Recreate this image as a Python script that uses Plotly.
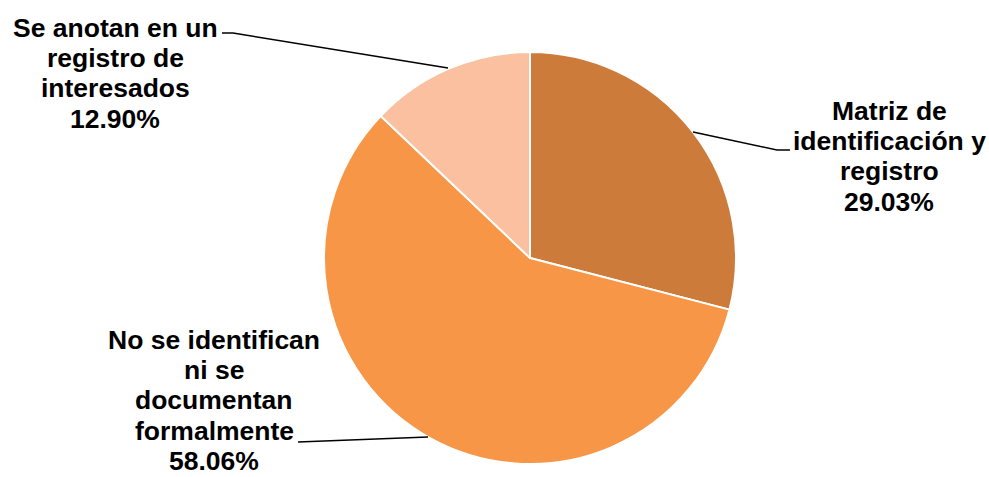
import plotly.graph_objects as go

# Slice data (clockwise from 12 o'clock)
labels = ["Matriz de identificación y registro",
          "No se identifican ni se documentan formalmente",
          "Se anotan en un registro de interesados"]
values = [29.03, 58.06, 12.90]
colors = ["#CD7B3A", "#F79646", "#FAC09F"]

# Wrapped label text for each slice
label_lines = [
    ["Matriz de", "identificación y", "registro"],
    ["No se identifican", "ni se", "documentan", "formalmente"],
    ["Se anotan en un", "registro de", "interesados"],
]

W, H = 989, 477


def px(x):
    return x / W


def py(y):
    return 1 - y / H


fig = go.Figure(go.Pie(
    labels=labels,
    values=values,
    sort=False,
    direction="clockwise",
    rotation=0,
    marker=dict(colors=colors, line=dict(color="white", width=2)),
    textinfo="none",
    hoverinfo="label+percent",
    showlegend=False,
    domain=dict(x=[px(530 - 206), px(530 + 206)], y=[py(464), py(52)]),
))

# label blocks: centre x and first-line y (pixels), fixed line pitch
label_pos = [(889, 111), (214, 340), (115, 28)]
line_pitch = 30.2
for lines, v, (x, y0) in zip(label_lines, values, label_pos):
    for i, line in enumerate(lines + [f"{v:.2f}%"]):
        fig.add_annotation(
            x=px(x), y=py(y0 + i * line_pitch), xref="paper", yref="paper",
            text=f"<b>{line}</b>", showarrow=False, align="center",
            xanchor="center", yanchor="middle",
            font=dict(family="Liberation Sans, Arial, sans-serif", size=26.5, color="black"),
        )

# leader lines
leaders = [
    [(693, 132), (777, 150), (790, 150)],
    [(298, 442), (428, 437)],
    [(222, 33), (233, 33), (448, 68)],
]
for pts in leaders:
    path = "M " + " L ".join(f"{px(a):.5f},{py(b):.5f}" for a, b in pts)
    fig.add_shape(type="path", path=path, xref="paper", yref="paper",
                  line=dict(color="black", width=1.5))

fig.update_layout(
    width=W, height=H,
    margin=dict(l=0, r=0, t=0, b=0),
    paper_bgcolor="white",
    plot_bgcolor="white",
)

fig.write_html("out.html")
